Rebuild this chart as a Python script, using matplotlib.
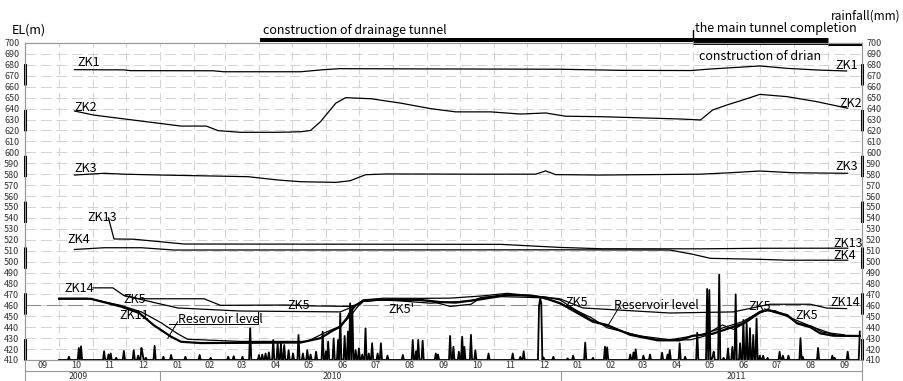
import numpy as np
import pandas as pd
import matplotlib
matplotlib.use('Agg')
import matplotlib.pyplot as plt

plt.rcParams['font.family'] = ['Noto Sans CJK SC', 'DejaVu Sans']

# x = days since 2009-09-01, y = elevation (m)
start = pd.Timestamp('2009-09-01')
end = pd.Timestamp('2011-10-01')

zk1_day = [44, 89, 95, 170, 180, 250, 270, 285, 360, 486, 540, 605, 623, 668, 693, 720, 747]
zk1_el = [675.6, 675.4, 674.7, 674.6, 673.7, 673.7, 675.5, 676.5, 676.3, 676.0, 675.0, 674.8, 676.2, 679.0, 676.8, 675.3, 674.4]

zk2_day = [44, 62, 141, 164, 175, 195, 229, 250, 259, 268, 282, 291, 314, 341, 368, 391, 423, 450, 473, 491,
           523, 595, 614, 625, 638, 653, 668, 693, 720, 748]
zk2_el = [637.8, 634, 624, 624, 619.8, 618.3, 618.3, 618.8, 620, 628, 645, 650, 649, 645, 640, 637, 637, 635, 636, 633,
          632.6, 630.5, 629.6, 638.7, 643.3, 648, 653, 650.9, 646.3, 640.3]

zk3_day = [44, 71, 89, 123, 171, 202, 229, 250, 282, 295, 309, 328, 409, 464, 473, 482, 523, 614, 641, 668, 698, 748]
zk3_el = [579.2, 580.8, 580, 579.2, 578.3, 577.7, 574.7, 573.1, 572.5, 574, 579.5, 580.2, 580, 580, 583, 579.6,
          579.2, 580, 581.3, 582.9, 581.3, 580.8]

zk13_day = [75, 80, 98, 144, 250, 432, 486, 523, 614, 668, 748]
zk13_el = [540, 520.7, 520.5, 516.1, 516, 515.8, 513, 511.8, 511.7, 512.2, 512.3]

zk4_day = [44, 71, 105, 135, 486, 586, 607, 623, 668, 693, 748]
zk4_el = [511.1, 512.7, 512.7, 510.6, 510.8, 510.6, 506.7, 503, 502.1, 501.3, 501.3]

zk14_day = [61, 79, 89, 103, 162, 177, 236, 259, 295, 302, 307, 325, 359, 386, 414, 438, 468, 486, 507, 586,
            644, 677, 714, 729, 747]
zk14_el = [476, 476, 469, 466, 466, 460, 460.3, 459.5, 459, 461, 465, 466.5, 466.4, 466.6, 468.5, 471, 468, 466,
           457.6, 453, 454, 461, 461, 457.5, 457]

zk5_day = [89, 138, 195, 286, 298, 307, 332, 368, 386, 405, 414, 438, 473, 486, 514, 529, 550, 577, 605, 618,
           625, 634, 644, 655, 668, 675, 693, 702, 715, 725, 745]
zk5_el = [469, 457.6, 454.8, 454, 459, 464, 465.5, 464, 459, 461, 467, 470, 467.5, 465, 447, 441, 434, 428, 428.5, 432,
          437, 442, 438, 444, 453, 455.5, 450, 444, 441, 435.5, 433]

zk11_day = [30, 59, 86, 103, 116, 132, 141, 159, 250, 268, 280, 286, 293, 295, 300, 307, 320, 341, 359, 377,
            391, 414, 438, 459, 471, 486, 516, 529, 550, 575, 595, 607, 625, 653, 668, 675, 693, 702, 714, 723,
            735, 759]
zk11_el = [466, 466, 459, 453, 442, 431.3, 426.7, 425.5, 426, 430, 437.4, 440.4, 449.6, 454, 460, 464.2, 465, 465,
           465, 463, 462.5, 465.5, 469.5, 469, 467, 462, 445, 442, 433, 428, 428, 432.2, 434, 443.5, 454, 456, 451,
           443.5, 440, 434.4, 432.2, 432]

res_day = [30, 56, 86, 105, 123, 138, 147, 159, 195, 256, 271, 286, 295, 302, 307, 323, 341, 368, 386, 405,
           414, 432, 468, 477, 493, 514, 529, 559, 586, 614, 652, 668, 675, 682, 695, 714, 736, 745]
res_el = [466.4, 466.4, 460, 454, 444, 434, 429, 428.5, 427, 427, 434.5, 441, 450, 459, 463.5, 465, 464, 462, 463,
          464, 467, 468, 467, 465, 459, 449, 439.5, 432, 428.5, 433, 445, 454, 455, 455, 449, 441, 433, 432]

# daily rainfall (day, mm); days not listed had no rain
rain_events = [(39, 3), (48, 11), (50, 12.5), (71, 8), (75, 5), (77, 6), (82, 2), (89, 8.3), (98, 9), (102, 4),
               (105, 11), (106, 6), (109, 2), (117, 13), (125, 3), (132, 4.6), (145, 3), (158, 4.6), (168, 2),
               (184, 3), (189, 3.5), (197, 3), (204, 29), (212, 4.6), (215, 5), (218, 6), (221, 7), (225, 18.3),
               (229, 15.2), (232, 15.2), (235, 13.7), (239, 9), (243, 6), (248, 22.9), (252, 6), (256, 9),
               (259, 5), (264, 7.6), (270, 25.9), (273, 8), (275, 16.8), (280, 19.8), (284, 18.3), (286, 42.7),
               (290, 22), (293, 26), (295, 51.8), (297, 48.8), (300, 9), (303, 10.7), (306, 5), (309, 29),
               (312, 6), (315, 15.3), (320, 6), (323, 15.3), (329, 4), (343, 4.6), (352, 18.3), (355, 8),
               (357, 18.3), (361, 17.7), (373, 6), (375, 5), (386, 22), (389, 12), (394, 7.6), (397, 21.3),
               (399, 12), (405, 23), (409, 9), (421, 6), (443, 6), (450, 3), (453, 8), (467, 50), (468, 56),
               (469, 52), (471, 2.4), (480, 3), (493, 1.5), (498, 4), (509, 15.9), (516, 2), (527, 12.2),
               (529, 11.6), (550, 5), (553, 7), (555, 9.8), (562, 4), (568, 5), (579, 6.7), (584, 5), (586, 9),
               (595, 15.3), (600, 3), (611, 25), (620, 65), (622, 64), (625, 3), (626, 7.6), (631, 78), (635, 2),
               (639, 10.7), (643, 12), (646, 60), (650, 15.3), (653, 36.6), (656, 33.6), (659, 29), (662, 22.9),
               (665, 38), (668, 4), (671, 4), (675, 2), (686, 7.6), (689, 4), (694, 4), (705, 20), (707, 3),
               (721, 11), (734, 4), (736, 2), (748, 7.6), (759, 26)]
rain_first_day = 30
rain_last_day = 759
rain_base = 410

el_ticks = list(range(410, 701, 10))
warn_level = 460

drain_tunnel_start = 213
main_tunnel_done = 607
drain_end = 730

fig = plt.figure(figsize=(9.04, 3.81), dpi=100)
ax = fig.add_axes([25 / 904, 21 / 381, 837 / 904, 317 / 381])
ax.set_xlim(-1, 761)
ax.set_ylim(410, 700)

months = pd.date_range(start, end, freq='MS')
edges = [(m - start).days for m in months]

# сетка
for e in edges[1:-1]:
    ax.axvline(e, color='#d2d2d2', lw=0.7, ls=(0, (9, 5)), zorder=0)
for v in el_ticks[1:-1]:
    ax.axhline(v, color='#d2d2d2', lw=0.7, ls=(0, (11, 5)), zorder=0)
ax.axhline(warn_level, color='#909090', lw=0.8, ls=(0, (14, 5)), zorder=1)

thin = dict(color='black', lw=0.9, zorder=3)
ax.plot(zk1_day, zk1_el, **thin)
ax.plot(zk2_day, zk2_el, **thin)
ax.plot(zk3_day, zk3_el, **thin)
ax.plot(zk13_day, zk13_el, **thin)
ax.plot(zk4_day, zk4_el, **thin)
ax.plot(zk14_day, zk14_el, **thin)
ax.plot(zk5_day, zk5_el, **thin)
ax.plot(res_day, res_el, **thin)
ax.plot(zk11_day, zk11_el, color='black', lw=1.6, zorder=4)

ax2 = ax.twinx()
ax2.set_ylim(410, 700)
rain_days = np.arange(rain_first_day, rain_last_day + 1)
rain = np.zeros(len(rain_days))
for d, mm in rain_events:
    rain[d - rain_first_day] = mm
ax2.plot(rain_days, rain_base + rain, color='black', lw=1.3, zorder=5)

# оси
ax.set_xticks([])
ax.set_yticks(el_ticks)
ax2.set_yticks(el_ticks)
ax.tick_params(axis='y', length=0, pad=4, labelsize=6.5, labelcolor='#333333')
ax2.tick_params(axis='y', length=0, pad=3, labelsize=6.5, labelcolor='#333333')
for a in (ax, ax2):
    for s in a.spines.values():
        s.set_color('#999999')
        s.set_linewidth(0.8)
for xa in (0, 1):
    ax.plot([xa, xa], [0, 1], transform=ax.transAxes, color='black', lw=2.2,
            ls=(0, (7, 8)), clip_on=False, zorder=6)

# подписи месяцев и годов
for a, b in zip(months[:-1], months[1:]):
    mid = ((a - start).days + (b - start).days) / 2
    ax.text(mid, -0.016, a.strftime('%m'), transform=ax.get_xaxis_transform(),
            ha='center', va='center', fontsize=6.5, color='#333333')
row_y = -0.035
ax.plot([-1, 761], [row_y, row_y], transform=ax.get_xaxis_transform(), color='#999999',
        lw=0.8, clip_on=False)
for d in [-1, (pd.Timestamp('2010-01-01') - start).days, (pd.Timestamp('2011-01-01') - start).days, 761]:
    ax.plot([d, d], [row_y if d not in (-1, 761) else 0, -0.07], transform=ax.get_xaxis_transform(),
            color='#999999', lw=0.8, clip_on=False)
for d, yr in [(47, '2009'), (279, '2010'), (647, '2011')]:
    ax.text(d, -0.051, yr, transform=ax.get_xaxis_transform(), ha='center', va='center',
            fontsize=6.3, color='#333333')

# этапы строительства
ax.plot([drain_tunnel_start, main_tunnel_done], [702.7, 702.7], color='black', lw=2.9,
        solid_capstyle='butt', clip_on=False)
ax.plot([main_tunnel_done, drain_end], [701.4, 701.4], color='black', lw=5,
        solid_capstyle='butt', clip_on=False)
ax.plot([drain_end, 761], [699.5, 699.5], color='black', lw=2.2, solid_capstyle='butt', clip_on=False)
ax.plot([main_tunnel_done, main_tunnel_done], [702.7, 712], color='black', lw=1, clip_on=False)
ax.text(216, 711, 'construction of drainage tunnel', fontsize=9, va='center', ha='left')
ax.text(609, 713.7, 'the main tunnel completion', fontsize=9, va='center', ha='left')
ax.text(613, 687.2, 'construction of drian', fontsize=9, va='center', ha='left')

fig.text(12 / 904, 1 - 30.5 / 381, 'EL(m)', fontsize=9, va='center', ha='left')
fig.text(901 / 904, 1 - 16 / 381, 'rainfall(mm)', fontsize=8.6, va='center', ha='right')

# подписи скважин
labels = [
    ('ZK1', 47, 682.6), ('ZK1', 737, 679), ('ZK2', 44, 641.4), ('ZK2', 740, 645),
    ('ZK3', 44, 585.6), ('ZK3', 737, 586.6), ('ZK13', 56, 540.8), ('ZK13', 735, 517),
    ('ZK4', 38, 520), ('ZK4', 735, 506), ('ZK14', 35, 475.8), ('ZK14', 732, 463),
    ('ZK5', 89, 465.8), ('ZK11', 85, 451), ('Reservoir level', 138, 446.6),
    ('ZK5', 238, 460.3), ("ZK5'", 330, 456.6), ('ZK5', 491, 463),
    ('Reservoir level', 535, 460.3), ('ZK5', 658, 458.5), ('ZK5', 700, 451),
]
for txt, d, y in labels:
    ax.text(d, y, txt, fontsize=9, va='center', ha='left', zorder=7)

# выноски
ax.plot([138, 129], [445, 430], color='black', lw=0.7, zorder=7)
ax.plot([130, 211, 211], [442.5, 442.5, 453.5], color='black', lw=0.7, zorder=7)
ax.plot([540, 530], [458.5, 442], color='black', lw=0.7, zorder=7)

fig.savefig('out.png', dpi=100)
